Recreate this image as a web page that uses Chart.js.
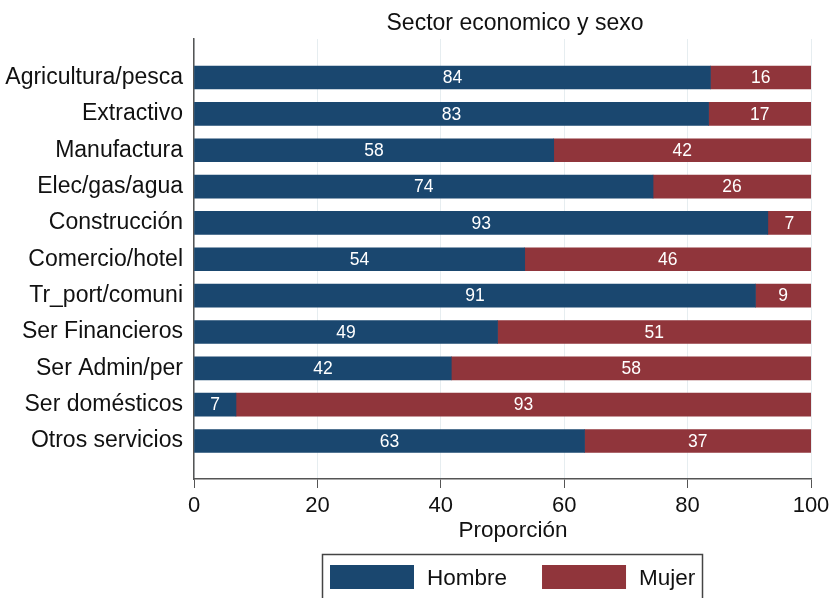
<!DOCTYPE html>
<html>
<head>
<meta charset="utf-8">
<script src="https://cdn.jsdelivr.net/npm/chart.js@4.4.1/dist/chart.umd.min.js"></script>
<style>
  html, body { margin: 0; padding: 0; background: #fff; }
</style>
</head>
<body>
<canvas id="sectorChart" width="832" height="598"></canvas>
<script>
var sectores = ['Agricultura/pesca', 'Extractivo', 'Manufactura', 'Elec/gas/agua', 'Construcción',
    'Comercio/hotel', 'Tr_port/comuni', 'Ser Financieros', 'Ser Admin/per', 'Ser domésticos', 'Otros servicios'];
var hombre = [83.7, 83.4, 58.3, 74.4, 93.0, 53.6, 91.0, 49.2, 41.7, 6.8, 63.3];
var mujer = [16.3, 16.6, 41.7, 25.6, 7.0, 46.4, 9.0, 50.8, 58.3, 93.2, 36.7];
var xTicks = [0, 20, 40, 60, 80, 100];

var fuente = '"Liberation Sans", Arial, sans-serif';
var navy = '#1a476f';
var maroon = '#90353b';

function puntos(valores) {
    return valores.map(function (v, i) { return { x: v, y: i }; });
}

// numbers inside each bar segment
var etiquetas = {
    id: 'etiquetas',
    afterDatasetsDraw: function (chart) {
        var ctx = chart.ctx;
        ctx.save();
        ctx.font = '17.5px ' + fuente;
        ctx.fillStyle = '#ffffff';
        ctx.textAlign = 'center';
        ctx.textBaseline = 'middle';
        chart.data.datasets.forEach(function (ds, di) {
            chart.getDatasetMeta(di).data.forEach(function (bar, i) {
                ctx.fillText(Math.round(ds.data[i].x), (bar.x + bar.base) / 2, bar.y + 1);
            });
        });
        ctx.restore();
    }
};

// title, axis title and boxed legend, stata style
var textos = {
    id: 'textos',
    afterDraw: function (chart) {
        var ctx = chart.ctx;
        ctx.save();
        ctx.fillStyle = '#111111';
        ctx.textAlign = 'center';
        ctx.textBaseline = 'alphabetic';

        ctx.font = '23px ' + fuente;
        ctx.fillText('Sector economico y sexo', 515, 30);

        ctx.font = '22.5px ' + fuente;
        ctx.fillText('Proporción', 513, 537);

        // legend
        ctx.strokeStyle = '#444444';
        ctx.lineWidth = 1.5;
        ctx.strokeRect(322.5, 554.5, 380, 50);

        var x = 330;
        ctx.textAlign = 'left';
        chart.data.datasets.forEach(function (ds) {
            ctx.fillStyle = ds.backgroundColor;
            ctx.fillRect(x, 565, 84, 24);
            ctx.fillStyle = '#111111';
            ctx.fillText(ds.label, x + 97, 585);
            x += 97 + ctx.measureText(ds.label).width + 35;
        });
        ctx.restore();
    }
};

var ctx = document.getElementById('sectorChart');

var sectorChart = new Chart(ctx, {
    type: 'bar',
    data: {
        datasets: [
            {
                label: 'Hombre',
                data: puntos(hombre),
                backgroundColor: navy,
                stack: 'sexo',
                barThickness: 23
            },
            {
                label: 'Mujer',
                data: puntos(mujer),
                backgroundColor: maroon,
                stack: 'sexo',
                barThickness: 23
            }
        ]
    },
    options: {
        indexAxis: 'y',
        responsive: false,
        animation: false,
        layout: { padding: { top: 39, right: 21, left: 0, bottom: 0 } },
        plugins: {
            legend: { display: false },
            title: { display: false },
            tooltip: { enabled: false }
        },
        scales: {
            x: {
                type: 'linear',
                position: 'bottom',
                stacked: true,
                min: 0,
                max: 100,
                afterBuildTicks: function (scale) {
                    scale.ticks = xTicks.map(function (v) { return { value: v }; });
                },
                afterFit: function (scale) {
                    scale.height = 119;
                    scale.paddingLeft = 0;
                    scale.paddingRight = 0;
                },
                grid: {
                    color: '#e6edf0',
                    tickColor: '#555555',
                    tickLength: 9,
                    lineWidth: 1
                },
                border: { color: '#555555', width: 1.5 },
                ticks: {
                    color: '#111111',
                    padding: 5,
                    font: { family: fuente, size: 22 }
                }
            },
            y: {
                // linear index axis so the empty space above and below the bars can be kept
                type: 'linear',
                stacked: true,
                reverse: true,
                offset: false,
                bounds: 'data',
                min: -1.06,
                max: 11.045,
                afterBuildTicks: function (scale) {
                    scale.ticks = sectores.map(function (s, i) { return { value: i }; });
                },
                afterFit: function (scale) {
                    scale.width = 194;
                    scale.paddingTop = 0;
                    scale.paddingBottom = 0;
                },
                grid: { display: false, drawTicks: false, offset: false },
                border: { display: true, color: '#555555', width: 1.5 },
                ticks: {
                    color: '#111111',
                    padding: 11,
                    autoSkip: false,
                    font: { family: fuente, size: 23 },
                    callback: function (value) {
                        return sectores[value];
                    }
                }
            }
        }
    },
    plugins: [etiquetas, textos]
});
</script>
</body>
</html>
